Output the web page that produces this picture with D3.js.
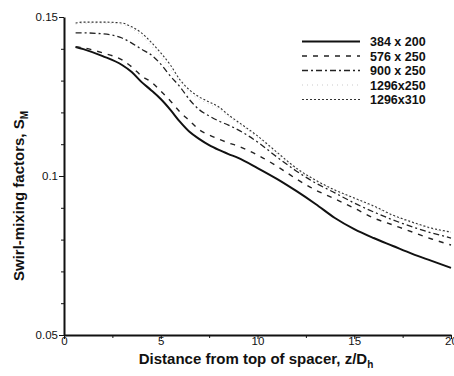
<!DOCTYPE html>
<html lang="en">
<head>
<meta charset="utf-8">
<title>Swirl-mixing factors</title>
<script src="https://d3js.org/d3.v7.min.js"></script>
<style>
body { margin: 0; background: #fff; }
svg text { font-family: "Liberation Sans", Arial, sans-serif; fill: #111; }
.ticklab { font-size: 11.5px; }
.title { font-size: 15px; font-weight: bold; }
.leg { font-size: 12.5px; font-weight: bold; }
.axis path, .axis line { stroke: #111; }
</style>
</head>
<body>
<div id="chart"></div>
<script>
// distance from spacer, z/Dh
var zPos = [0.6, 1, 2, 3, 3.5, 4, 4.5, 5, 5.5, 6, 6.5, 7, 7.5, 8, 8.5, 9, 10, 11, 12, 13, 14, 15, 16, 17, 18, 19, 20];

// swirl-mixing factor for each grid
var grid384x200 = [0.1406, 0.1399, 0.1377, 0.1349, 0.1327, 0.1296, 0.1270, 0.1242, 0.1208, 0.1170, 0.1138, 0.1116, 0.1097, 0.1082, 0.1069, 0.1057, 0.1025, 0.0991, 0.0953, 0.0912, 0.0868, 0.0833, 0.0805, 0.0780, 0.0755, 0.0733, 0.0711];
var grid576x250 = [0.1406, 0.1403, 0.1387, 0.1365, 0.1343, 0.1315, 0.1296, 0.1267, 0.1236, 0.1201, 0.1173, 0.1145, 0.1129, 0.1116, 0.1104, 0.1094, 0.1066, 0.1031, 0.0991, 0.0956, 0.0928, 0.0899, 0.0868, 0.0846, 0.0824, 0.0802, 0.0783];
var grid900x250 = [0.1450, 0.1450, 0.1447, 0.1434, 0.1418, 0.1399, 0.1381, 0.1352, 0.1314, 0.1280, 0.1239, 0.1208, 0.1189, 0.1173, 0.1160, 0.1145, 0.1107, 0.1060, 0.1016, 0.0978, 0.0947, 0.0915, 0.0887, 0.0862, 0.0840, 0.0821, 0.0805];
var grid1296x250 = [0.1478, 0.1480, 0.1481, 0.1477, 0.1463, 0.1441, 0.1410, 0.1375, 0.1336, 0.1293, 0.1262, 0.1241, 0.1226, 0.1211, 0.1187, 0.1165, 0.1121, 0.1070, 0.1021, 0.0984, 0.0953, 0.0928, 0.0902, 0.0874, 0.0852, 0.0833, 0.0821];
var grid1296x310 = [0.1481, 0.1484, 0.1484, 0.1481, 0.1469, 0.1450, 0.1421, 0.1387, 0.1349, 0.1302, 0.1270, 0.1248, 0.1233, 0.1217, 0.1192, 0.1170, 0.1126, 0.1075, 0.1025, 0.0987, 0.0956, 0.0931, 0.0906, 0.0877, 0.0855, 0.0836, 0.0824];

var seriesNames = ["384 x 200", "576 x 250", "900 x 250", "1296x250", "1296x310"];
var seriesValues = [grid384x200, grid576x250, grid900x250, grid1296x250, grid1296x310];

var xTicks = [0, 5, 10, 15, 20];
var xTickLabels = ["0", "5", "10", "15", "20"];
var yTicks = [0.05, 0.1, 0.15];
var yTickLabels = ["0.05", "0.1", "0.15"];

// line look for each series
var styles = [
  { dash: null, width: 2, color: "#111" },
  { dash: "5,6", width: 1.4, color: "#222" },
  { dash: "6,3,2,3", width: 1.3, color: "#222" },
  { dash: "1,4", width: 0.8, color: "#bbb" },
  { dash: "2,2", width: 1.1, color: "#333" }
];

var width = 454, height = 376;
var plotLeft = 64, plotRight = 451, plotTop = 17, plotBottom = 335;

var svg = d3.select("#chart").append("svg")
  .attr("width", width)
  .attr("height", height);

var x = d3.scaleLinear().domain([0, 20]).range([plotLeft, plotRight]);
var y = d3.scaleLinear().domain([0.05, 0.15]).range([plotBottom, plotTop]);

// minor ticks first, majors on top
svg.append("g")
  .attr("class", "axis")
  .attr("transform", "translate(" + plotLeft + ",0)")
  .call(d3.axisLeft(y).tickValues(d3.range(0.06, 0.145, 0.01)).tickSize(3).tickFormat(""))
  .call(function(g) { g.select(".domain").remove(); });

svg.append("g")
  .attr("class", "axis")
  .attr("transform", "translate(0," + plotBottom + ")")
  .call(d3.axisBottom(x).tickValues([2.5, 7.5, 12.5, 17.5]).tickSize(3).tickFormat(""))
  .call(function(g) { g.select(".domain").remove(); });

var yAxis = svg.append("g")
  .attr("class", "axis")
  .attr("transform", "translate(" + plotLeft + ",0)")
  .call(d3.axisLeft(y).tickValues(yTicks).tickSize(5).tickSizeOuter(0)
    .tickFormat(function(d, i) { return yTickLabels[i]; }));
yAxis.select(".domain").attr("stroke-width", 2);
yAxis.selectAll("text").attr("class", "ticklab").attr("font-family", null).attr("font-size", null).attr("x", -6);

var xAxis = svg.append("g")
  .attr("class", "axis")
  .attr("transform", "translate(0," + plotBottom + ")")
  .call(d3.axisBottom(x).tickValues(xTicks).tickSize(4).tickSizeOuter(0)
    .tickFormat(function(d, i) { return xTickLabels[i]; }));
xAxis.select(".domain").attr("stroke-width", 2);
xAxis.selectAll("text").attr("class", "ticklab").attr("font-family", null).attr("font-size", null).attr("y", 2);

// curves
var line = d3.line()
  .x(function(d) { return x(d[0]); })
  .y(function(d) { return y(d[1]); })
  .curve(d3.curveMonotoneX);

seriesValues.forEach(function(vals, i) {
  var pts = zPos.map(function(z, k) { return [z, vals[k]]; });
  svg.append("path")
    .datum(pts)
    .attr("d", line)
    .attr("fill", "none")
    .attr("stroke", styles[i].color)
    .attr("stroke-width", styles[i].width)
    .attr("stroke-dasharray", styles[i].dash);
});

// legend
var legend = svg.append("g");
seriesNames.forEach(function(name, i) {
  var ly = 41.5 + i * 14.5;
  legend.append("line")
    .attr("x1", 302).attr("x2", 360)
    .attr("y1", ly).attr("y2", ly)
    .attr("stroke", styles[i].color)
    .attr("stroke-width", styles[i].width)
    .attr("stroke-dasharray", styles[i].dash);
  legend.append("text")
    .attr("class", "leg")
    .attr("x", 370).attr("y", ly + 4.5)
    .text(name);
});

// axis titles
var xt = svg.append("text")
  .attr("class", "title")
  .attr("x", 256).attr("y", 364)
  .attr("text-anchor", "middle");
xt.append("tspan").text("Distance from top of spacer, z/D");
xt.append("tspan").attr("font-size", 10).attr("dy", 4).text("h");

var yt = svg.append("text")
  .attr("class", "title")
  .attr("transform", "translate(24,196) rotate(-90)")
  .attr("text-anchor", "middle");
yt.append("tspan").text("Swirl-mixing factors, S");
yt.append("tspan").attr("font-size", 10).attr("dy", 4).text("M");
</script>
</body>
</html>
